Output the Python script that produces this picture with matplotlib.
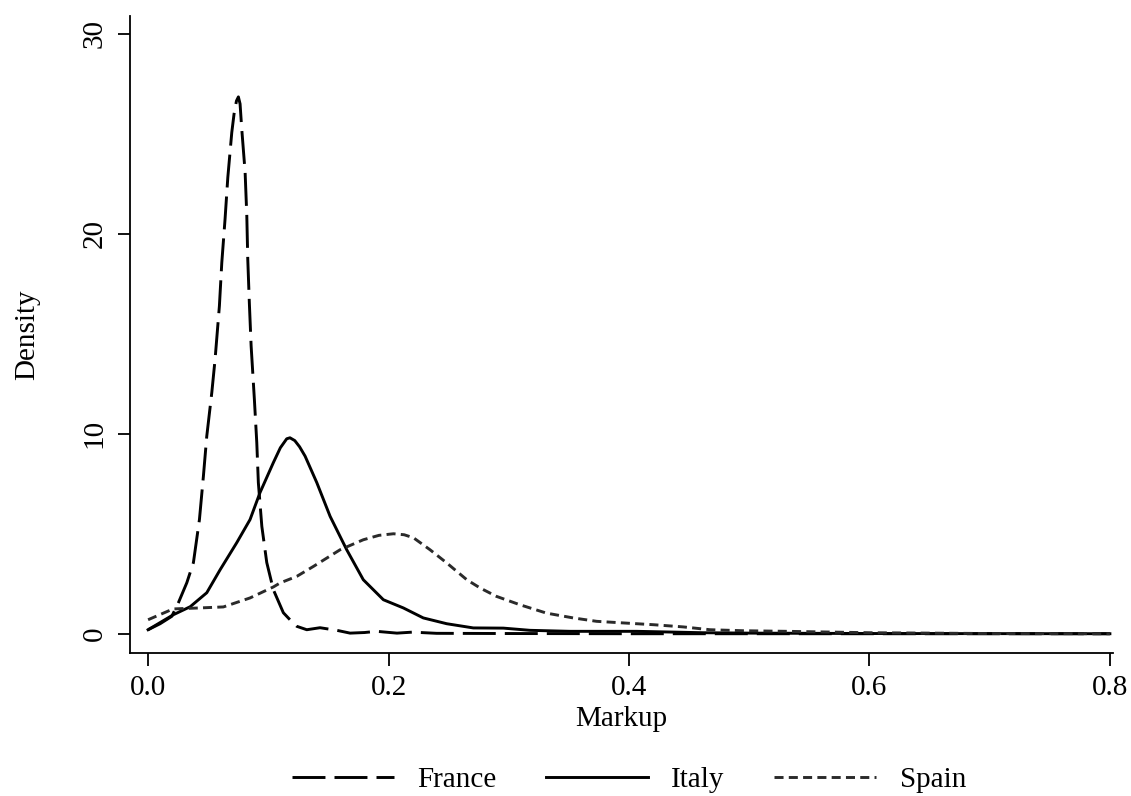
import numpy as np
import matplotlib
matplotlib.use("Agg")
import matplotlib.pyplot as plt

# values (kernel densities of markup)
france_x = [0.0, 0.0100, 0.0197, 0.0252, 0.0322, 0.0377, 0.0427, 0.0460, 0.0488, 0.0530,
            0.0557, 0.0593, 0.0613, 0.0640, 0.0663, 0.0696, 0.0715, 0.0735, 0.0751, 0.0765,
            0.0779, 0.0807, 0.0821, 0.0829, 0.0842, 0.0857, 0.0884, 0.0904, 0.0917, 0.0946,
            0.0987, 0.1042, 0.1125, 0.1180, 0.1237, 0.1320, 0.1430, 0.1570, 0.1680,
            0.1800, 0.1900, 0.2070, 0.2200, 0.2400, 0.3000, 0.4000, 0.6000, 0.8000]
france_y = [0.2, 0.5, 0.87, 1.55, 2.55, 3.56, 5.71, 7.88, 9.88, 12.07,
            13.72, 16.39, 18.56, 20.73, 22.82, 25.07, 26.0, 26.65, 26.85, 26.5,
            25.24, 23.08, 20.9, 18.73, 16.57, 14.39, 11.72, 9.56, 7.56, 5.37,
            3.56, 2.2, 1.05, 0.7, 0.37, 0.2, 0.3, 0.17, 0.03,
            0.06, 0.12, 0.03, 0.08, 0.02, 0.01, 0.0, 0.0, 0.0]

italy_x = [0.0, 0.0210, 0.0350, 0.0488, 0.0599, 0.0738, 0.0848, 0.0931, 0.1042, 0.1100,
           0.1153, 0.1180, 0.1220, 0.1260, 0.1306, 0.1403, 0.1514, 0.1652, 0.1790, 0.1957,
           0.2123, 0.2289, 0.2484, 0.2705, 0.2955, 0.3177, 0.3510, 0.4064, 0.4615, 0.5000,
           0.6000, 0.8000]
italy_y = [0.2, 0.95, 1.35, 2.05, 3.2, 4.56, 5.71, 7.06, 8.56, 9.3,
           9.75, 9.8, 9.66, 9.35, 8.88, 7.56, 5.87, 4.2, 2.7, 1.7,
           1.29, 0.79, 0.5, 0.29, 0.28, 0.17, 0.12, 0.12, 0.05, 0.03,
           0.01, 0.0]

spain_x = [0.0, 0.0208, 0.0430, 0.0626, 0.0848, 0.1042, 0.1098, 0.1237, 0.1376, 0.1597,
           0.1790, 0.1920, 0.2041, 0.2130, 0.2207, 0.2345, 0.2484, 0.2651, 0.2761, 0.2897,
           0.3092, 0.3314, 0.3536, 0.3731, 0.3980, 0.4206, 0.4453, 0.4674, 0.4948, 0.5310,
           0.6000, 0.7000, 0.8000]
spain_y = [0.7, 1.24, 1.29, 1.34, 1.79, 2.34, 2.54, 2.87, 3.37, 4.2,
           4.7, 4.92, 5.0, 4.95, 4.8, 4.2, 3.54, 2.7, 2.29, 1.87,
           1.45, 1.03, 0.79, 0.62, 0.53, 0.45, 0.34, 0.2, 0.15, 0.12,
           0.05, 0.01, 0.0]

plt.rcParams['font.family'] = ['Liberation Serif', 'DejaVu Serif']

fig = plt.figure(figsize=(11.31, 7.96), dpi=100)
ax = fig.add_axes([0.115, 0.18, 0.869, 0.80])

lw = 2.1
ax.plot(france_x, france_y, color='black', lw=lw, ls=(0, (11.3, 3.1)),
        solid_joinstyle='round', label='France')
ax.plot(italy_x, italy_y, color='black', lw=lw, ls='-',
        solid_joinstyle='round', label='Italy')
ax.plot(spain_x, spain_y, color='#2a2a2a', lw=lw, ls=(0, (3.1, 1.8)),
        label='Spain')

ax.set_xlim(-0.015, 0.8025)
ax.set_ylim(-0.95, 30.9)
ax.set_xticks([0.0, 0.2, 0.4, 0.6, 0.8])
ax.set_xticklabels(['0.0', '0.2', '0.4', '0.6', '0.8'])
ax.set_yticks([0, 10, 20, 30])
for lab in ax.get_yticklabels():
    lab.set_rotation(90)
    lab.set_va('center')

ax.spines['top'].set_visible(False)
ax.spines['right'].set_visible(False)
ax.spines['left'].set_linewidth(1.3)
ax.spines['bottom'].set_linewidth(1.3)
ax.tick_params(direction='out', length=9, width=1.3, labelsize=21, pad=7)

ax.set_xlabel('Markup', fontsize=21, labelpad=4)
ax.set_ylabel('Density', fontsize=21, labelpad=30)

fig.legend(loc='center', bbox_to_anchor=(0.556, 0.02), ncol=3, frameon=False,
           fontsize=21, handlelength=3.5, handletextpad=0.8, columnspacing=1.7)

fig.savefig('out.png', dpi=100)
